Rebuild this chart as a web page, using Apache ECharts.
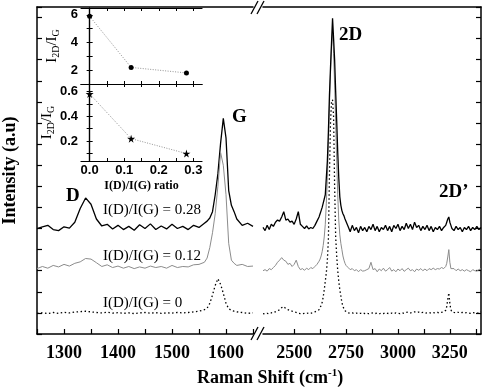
<!DOCTYPE html>
<html>
<head>
<meta charset="utf-8">
<script src="https://cdn.jsdelivr.net/npm/echarts@6.0.0/dist/echarts.min.js"></script>
<style>
  html, body { margin: 0; padding: 0; background: #fff; }
  #chart { width: 482px; height: 387px; }
</style>
</head>
<body>
<div id="chart"></div>
<script>
// Raman shift (cm-1), first segment of the broken axis
const leftShift = [
  1250, 1260, 1270, 1280, 1290, 1300, 1310, 1320, 1330, 1340,
  1350, 1360, 1370, 1380, 1390, 1400, 1410, 1420, 1430, 1440,
  1450, 1460, 1470, 1480, 1490, 1500, 1510, 1520, 1530, 1540,
  1550, 1560, 1565, 1570, 1575, 1580, 1585, 1590, 1595, 1600,
  1605, 1610, 1615, 1620, 1630, 1640, 1650
]
// I(D)/I(G) = 0.28 (black)
const left28 = [
  5.0, 5.08, 5.15, 4.95, 4.9, 5.08, 5.02, 5.3, 5.95, 6.45,
  6.15, 5.45, 5.12, 5.2, 4.98, 5.15, 4.95, 5.1, 4.92, 5.18,
  5.0, 5.22, 4.95, 5.12, 4.98, 5.2, 5.0, 5.1, 4.95, 5.15,
  5.05, 5.25, 5.35, 5.5, 5.8, 6.6, 7.6, 9.05, 10.22, 9.3,
  6.8, 6.1, 5.8, 5.45, 5.15, 5.25, 5.1
]
// I(D)/I(G) = 0.12 (grey)
const left12 = [
  3.1, 3.2, 3.12, 3.25, 3.18, 3.3, 3.22, 3.35, 3.42, 3.58,
  3.55, 3.38, 3.2, 3.28, 3.15, 3.22, 3.12, 3.2, 3.1, 3.18,
  3.12, 3.22, 3.15, 3.2, 3.12, 3.25, 3.15, 3.2, 3.18, 3.28,
  3.3, 3.4, 3.6, 4.1, 4.8, 5.7, 7.0, 8.6, 8.0, 6.6,
  4.3, 3.5, 3.35, 3.25, 3.3, 3.2, 3.22
]
// I(D)/I(G) = 0 (dotted)
const left0 = [
  0.98, 1.0, 0.97, 1.02, 0.98, 1.03, 1.0, 1.04, 1.06, 1.08,
  1.05, 1.02, 1.0, 1.03, 0.99, 1.01, 0.98, 1.0, 0.97, 1.0,
  1.02, 0.99, 1.01, 0.98, 1.0, 0.99, 1.02, 1.0, 1.02, 1.05,
  1.08, 1.15, 1.22, 1.45, 1.85, 2.3, 2.62, 2.35, 1.93, 1.45,
  1.2, 1.12, 1.08, 1.05, 1.02, 0.98, 1.0
]

// second segment of the broken axis
const rightShift = [
  2350, 2360, 2370, 2380, 2390, 2400, 2410, 2420, 2430, 2440,
  2450, 2460, 2470, 2480, 2490, 2500, 2510, 2520, 2530, 2540,
  2550, 2560, 2570, 2580, 2590, 2600, 2610, 2620, 2625, 2630,
  2635, 2640, 2645, 2650, 2655, 2660, 2665, 2670, 2675, 2680,
  2685, 2690, 2695, 2700, 2705, 2710, 2715, 2720, 2725, 2730,
  2735, 2740, 2745, 2750, 2760, 2770, 2780, 2790, 2800, 2810,
  2820, 2830, 2840, 2850, 2860, 2870, 2880, 2890, 2900, 2910,
  2920, 2930, 2940, 2950, 2960, 2970, 2980, 2990, 3000, 3010,
  3020, 3030, 3040, 3050, 3060, 3070, 3080, 3090, 3100, 3110,
  3120, 3130, 3140, 3150, 3160, 3170, 3180, 3190, 3200, 3210,
  3220, 3230, 3235, 3240, 3245, 3250, 3255, 3260, 3270, 3280,
  3290, 3300, 3310, 3320, 3330, 3340, 3350, 3360, 3370, 3380,
  3390, 3400
]
const right28 = [
  5.05, 4.9, 5.15, 4.95, 5.2, 5.1, 5.3, 5.4, 5.35, 5.55,
  5.8, 5.4, 5.45, 5.3, 5.35, 5.2, 5.45, 5.8, 5.2, 5.1,
  5.0, 5.12, 4.98, 5.05, 5.0, 5.15, 5.35, 5.55, 5.7, 5.85,
  6.0, 6.2, 6.4, 6.6, 7.4, 8.2, 9.6, 11.3, 12.6, 13.8,
  14.96, 14.0, 13.0, 11.5, 10.1, 8.6, 7.4, 6.5, 6.1, 5.85,
  5.7, 5.6, 5.45, 5.4, 5.1, 4.85, 5.15, 4.9, 5.05, 4.8,
  5.1, 4.9, 5.05, 4.85, 5.1, 4.95, 5.2, 4.9, 5.1, 4.85,
  5.05, 4.95, 5.15, 4.9, 5.1, 4.85, 5.15, 5.0, 5.2, 4.9,
  5.1, 4.95, 5.25, 5.0, 5.2, 4.95, 5.3, 5.05, 5.15, 4.9,
  5.1, 4.95, 5.15, 4.9, 5.1, 4.85, 5.05, 4.95, 5.1, 4.9,
  5.05, 5.15, 5.3, 5.45, 5.55, 5.3, 5.15, 5.0, 4.9, 5.1,
  4.95, 5.05, 4.85, 5.05, 4.95, 5.1, 4.9, 5.05, 4.95, 5.1,
  4.95, 5.05
]
const right12 = [
  3.0, 3.05, 2.98, 3.1, 3.05, 3.15, 3.25, 3.4, 3.5, 3.62,
  3.5, 3.45, 3.3, 3.35, 3.2, 3.3, 3.5, 3.2, 3.05, 3.1,
  3.02, 3.12, 3.05, 3.15, 3.1, 3.2, 3.3, 3.45, 3.55, 3.7,
  3.9, 4.2, 4.6, 5.2, 6.2, 7.4, 9.0, 10.8, 12.3, 13.6,
  14.3, 13.3, 11.8, 10.0, 8.2, 6.6, 5.4, 4.7, 4.3, 4.0,
  3.7, 3.5, 3.35, 3.25, 3.15, 3.05, 3.1, 3.0, 3.05, 2.95,
  3.05, 2.98, 3.0, 3.05, 3.1, 3.4, 3.05, 3.1, 2.95, 3.08,
  3.0, 3.12, 2.98, 3.05, 3.15, 2.98, 3.05, 2.95, 3.08, 3.0,
  3.1, 2.97, 3.05, 3.12, 3.0, 3.05, 2.95, 3.08, 3.02, 3.1,
  3.0, 3.08, 3.0, 3.1, 3.05, 3.12, 3.05, 3.1, 3.08, 3.15,
  3.1, 3.2, 3.35, 3.65, 4.0, 3.4, 3.1, 3.05, 3.1, 3.0,
  3.08, 3.0, 3.05, 2.98, 3.05, 3.0, 2.95, 3.05, 3.0, 2.98,
  3.05, 3.1
]
const right0 = [
  0.97, 0.95, 0.98, 0.96, 1.0, 1.05, 1.05, 1.1, 1.15, 1.25,
  1.3, 1.2, 1.15, 1.12, 1.08, 1.05, 1.02, 0.98, 0.97, 0.96,
  0.98, 0.97, 1.0, 0.98, 1.02, 1.05, 1.1, 1.15, 1.25, 1.35,
  1.5, 1.75, 2.1, 2.5, 2.9, 3.5, 4.5, 7.5, 10.0, 11.0,
  11.1, 10.3, 7.0, 4.6, 3.7, 3.0, 2.5, 2.1, 1.8, 1.5,
  1.3, 1.2, 1.1, 1.05, 1.0, 0.98, 1.0, 0.97, 0.99, 0.96,
  0.98, 1.0, 0.97, 0.99, 0.96, 0.98, 1.0, 0.97, 0.99, 0.96,
  0.99, 0.97, 1.0, 0.98, 0.96, 0.99, 0.97, 1.0, 0.98, 0.97,
  1.0, 0.98, 1.02, 1.04, 1.0, 1.03, 1.05, 1.02, 1.04, 1.0,
  1.02, 0.99, 1.0, 1.02, 0.99, 1.01, 1.0, 1.02, 1.0, 1.03,
  1.05, 1.12, 1.3, 1.65, 1.95, 1.45, 1.15, 1.05, 1.02, 1.0,
  1.03, 1.0, 1.02, 0.99, 1.01, 1.0, 0.98, 1.01, 1.0, 0.98,
  1.0, 1.05
]

// inset data
const ratioDG = [0, 0.12, 0.28]
const ratio2DG = [5.9, 2.2, 1.8]
const ratio2DpG = [0.58, 0.22, 0.1]

// tick labels
const leftTicks = [1300, 1400, 1500, 1600]
const rightTicks = [2500, 2750, 3000, 3250]
const rightMinor = [2500, 2625, 2750, 2875, 3000, 3125, 3250, 3375]

const pairs = (xs, ys) => xs.map((x, i) => [x, ys[i]])

const serif = '"Liberation Serif", "Times New Roman", serif'
const sans = '"Liberation Sans", Arial, sans-serif'
const frame = { show: true, lineStyle: { color: '#000', width: 1.5 } }
const tickIn = { show: true, inside: true, length: 5, lineStyle: { color: '#000', width: 1.2 } }
const insetTick = { show: true, inside: true, length: 3, lineStyle: { color: '#000', width: 1 } }
const insetFrame = { show: true, lineStyle: { color: '#000', width: 1.2 } }
const insetLabel = { color: '#000', fontFamily: sans, fontWeight: 'bold', fontSize: 13, margin: 3 }
const subRich = {
  a: { fontFamily: serif, fontSize: 15, color: '#000', lineHeight: 18 },
  s: { fontFamily: serif, fontSize: 10, color: '#000', verticalAlign: 'bottom', lineHeight: 10 },
}

const black = { color: '#000', width: 1.3 }
const grey = { color: '#8c8c8c', width: 1 }
const dots = { color: '#000', width: 1.3, type: [1.5, 2.5] }

function spectrum(xi, yi, xs, ys, style) {
  return {
    type: 'line', xAxisIndex: xi, yAxisIndex: yi, data: pairs(xs, ys),
    showSymbol: false, lineStyle: style, silent: true,
  }
}

function note(text, x, y, font) {
  return { type: 'text', x: x, y: y, style: { text: text, font: font, fill: '#000' } }
}

const option = {
  animation: false,
  backgroundColor: '#fff',
  grid: [
    { left: 37, top: 7, width: 216, bottom: 53 },
    { left: 263, top: 7, right: 1, bottom: 53 },
    { left: 81, top: 8, width: 121, height: 76, show: true, backgroundColor: '#fff', borderWidth: 0 },
    { left: 81, top: 84, width: 121, height: 77, show: true, backgroundColor: '#fff', borderWidth: 0 },
  ],
  xAxis: [
    {
      gridIndex: 0, type: 'value', min: 1250, max: 1650, interval: 50,
      axisLine: frame, axisTick: tickIn, splitLine: { show: false },
      axisLabel: {
        color: '#000', fontFamily: serif, fontWeight: 'bold', fontSize: 18, margin: 10,
        formatter: (v) => (leftTicks.includes(v) ? String(v) : ''),
      },
    },
    { gridIndex: 0, type: 'value', position: 'top', min: 1250, max: 1650, axisLine: frame,
      axisTick: { show: false }, axisLabel: { show: false }, splitLine: { show: false } },
    {
      gridIndex: 1, type: 'value', min: 2350, max: 3400,
      axisLine: frame, splitLine: { show: false },
      axisTick: Object.assign({}, tickIn, { customValues: rightMinor }),
      axisLabel: {
        color: '#000', fontFamily: serif, fontWeight: 'bold', fontSize: 18, margin: 10,
        customValues: rightTicks, formatter: (v) => String(v),
      },
    },
    { gridIndex: 1, type: 'value', position: 'top', min: 2350, max: 3400, axisLine: frame,
      axisTick: { show: false }, axisLabel: { show: false }, splitLine: { show: false } },
    // inset top panel
    { gridIndex: 2, type: 'value', min: -0.025, max: 0.325, axisLine: insetFrame,
      axisTick: Object.assign({}, insetTick, { customValues: [0, 0.05, 0.1, 0.15, 0.2, 0.25, 0.3] }),
      axisLabel: { show: false }, splitLine: { show: false } },
    { gridIndex: 2, type: 'value', position: 'top', min: -0.025, max: 0.325, axisLine: insetFrame,
      axisTick: Object.assign({}, insetTick, { customValues: [0, 0.05, 0.1, 0.15, 0.2, 0.25, 0.3] }),
      axisLabel: { show: false }, splitLine: { show: false } },
    // inset bottom panel
    { gridIndex: 3, type: 'value', min: -0.025, max: 0.325, axisLine: insetFrame,
      axisTick: Object.assign({}, insetTick, { customValues: [0, 0.05, 0.1, 0.15, 0.2, 0.25, 0.3] }),
      axisLabel: Object.assign({}, insetLabel, {
        customValues: [0, 0.1, 0.2, 0.3], formatter: (v) => v.toFixed(1),
      }),
      splitLine: { show: false },
      name: 'I(D)/I(G) ratio', nameLocation: 'middle', nameGap: 19,
      nameTextStyle: { color: '#000', fontFamily: serif, fontWeight: 'bold', fontSize: 12 } },
    { gridIndex: 3, type: 'value', position: 'top', min: -0.025, max: 0.325, axisLine: insetFrame,
      axisTick: Object.assign({}, insetTick, { customValues: [0, 0.05, 0.1, 0.15, 0.2, 0.25, 0.3] }),
      axisLabel: { show: false }, splitLine: { show: false } },
  ],
  yAxis: [
    {
      gridIndex: 0, type: 'value', min: 0, max: 15.5, interval: 1,
      axisLine: frame, axisTick: tickIn, axisLabel: { show: false }, splitLine: { show: false },
      name: 'Intensity (a.u)', nameLocation: 'middle', nameGap: 18,
      nameTextStyle: { color: '#000', fontFamily: serif, fontWeight: 'bold', fontSize: 18 },
    },
    {
      gridIndex: 1, type: 'value', position: 'right', min: 0, max: 15.5, interval: 1,
      axisLine: frame, axisTick: tickIn, axisLabel: { show: false }, splitLine: { show: false },
    },
    {
      gridIndex: 2, type: 'value', min: 1, max: 6.5, axisLine: insetFrame,
      axisTick: Object.assign({}, insetTick, { customValues: [2, 3, 4, 5, 6] }),
      axisLabel: Object.assign({}, insetLabel, { customValues: [2, 4, 6] }),
      splitLine: { show: false },
      name: '{a|I}{s|2D}{a|/I}{s|G}', nameLocation: 'middle', nameGap: 20,
      nameTextStyle: { rich: subRich },
    },
    {
      gridIndex: 2, type: 'value', position: 'right', min: 1, max: 6.5, axisLine: insetFrame,
      axisTick: Object.assign({}, insetTick, { customValues: [2, 3, 4, 5, 6] }),
      axisLabel: { show: false }, splitLine: { show: false },
    },
    {
      gridIndex: 3, type: 'value', min: 0.04, max: 0.66, axisLine: insetFrame,
      axisTick: Object.assign({}, insetTick, { customValues: [0.1, 0.2, 0.3, 0.4, 0.5, 0.6] }),
      axisLabel: Object.assign({}, insetLabel, { customValues: [0.2, 0.4, 0.6], formatter: (v) => v.toFixed(1) }),
      splitLine: { show: false },
      name: '{a|I}{s|2D}{a|/I}{s|G}', nameLocation: 'middle', nameGap: 24,
      nameTextStyle: { rich: subRich },
    },
    {
      gridIndex: 3, type: 'value', position: 'right', min: 0.04, max: 0.66, axisLine: insetFrame,
      axisTick: Object.assign({}, insetTick, { customValues: [0.1, 0.2, 0.3, 0.4, 0.5, 0.6] }),
      axisLabel: { show: false }, splitLine: { show: false },
    },
  ],
  series: [
    spectrum(0, 0, leftShift, left28, black),
    spectrum(0, 0, leftShift, left12, grey),
    spectrum(0, 0, leftShift, left0, dots),
    spectrum(2, 1, rightShift, right0, dots),
    spectrum(2, 1, rightShift, right12, grey),
    spectrum(2, 1, rightShift, right28, black),
    {
      type: 'line', xAxisIndex: 4, yAxisIndex: 2, data: pairs(ratioDG, ratio2DG),
      symbol: 'circle', symbolSize: 5, itemStyle: { color: '#000' },
      lineStyle: { color: '#777', width: 0.8, type: [1, 1.5] }, silent: true,
    },
    {
      type: 'line', xAxisIndex: 6, yAxisIndex: 4, data: pairs(ratioDG, ratio2DpG),
      symbol: 'path://M50,0 L61,35 L98,35 L68,57 L79,91 L50,70 L21,91 L32,57 L2,35 L39,35 Z',
      symbolSize: 8, itemStyle: { color: '#000' },
      lineStyle: { color: '#777', width: 0.8, type: [1, 1.5] }, silent: true,
    },
  ],
  graphic: [
    // axis break marks
    { type: 'line', shape: { x1: 251, y1: 340, x2: 258, y2: 327 }, style: { stroke: '#000', lineWidth: 1.3 } },
    { type: 'line', shape: { x1: 257, y1: 340, x2: 264, y2: 327 }, style: { stroke: '#000', lineWidth: 1.3 } },
    { type: 'line', shape: { x1: 251, y1: 14, x2: 258, y2: 1 }, style: { stroke: '#000', lineWidth: 1.3 } },
    { type: 'line', shape: { x1: 257, y1: 14, x2: 264, y2: 1 }, style: { stroke: '#000', lineWidth: 1.3 } },
    note('D', 66, 187, 'bold 19px ' + serif),
    note('G', 232, 108, 'bold 19px ' + serif),
    note('2D', 339, 26, 'bold 19px ' + serif),
    note('2D\u2019', 439, 183, 'bold 19px ' + serif),
    note('I(D)/I(G) = 0.28', 103, 203, '15px ' + serif),
    note('I(D)/I(G) = 0.12', 103, 249, '15px ' + serif),
    note('I(D)/I(G) = 0', 103, 296, '15px ' + serif),
    {
      type: 'text', x: 197, y: 368,
      style: {
        text: '{a|Raman Shift (cm}{s|-1}{a|)}',
        rich: {
          a: { font: 'bold 18px ' + serif, fill: '#000', lineHeight: 20 },
          s: { font: 'bold 11px ' + serif, fill: '#000', verticalAlign: 'top', lineHeight: 11 },
        },
      },
    },
  ],
}

const chart = echarts.init(document.getElementById('chart'))
chart.setOption(option)
</script>
</body>
</html>
